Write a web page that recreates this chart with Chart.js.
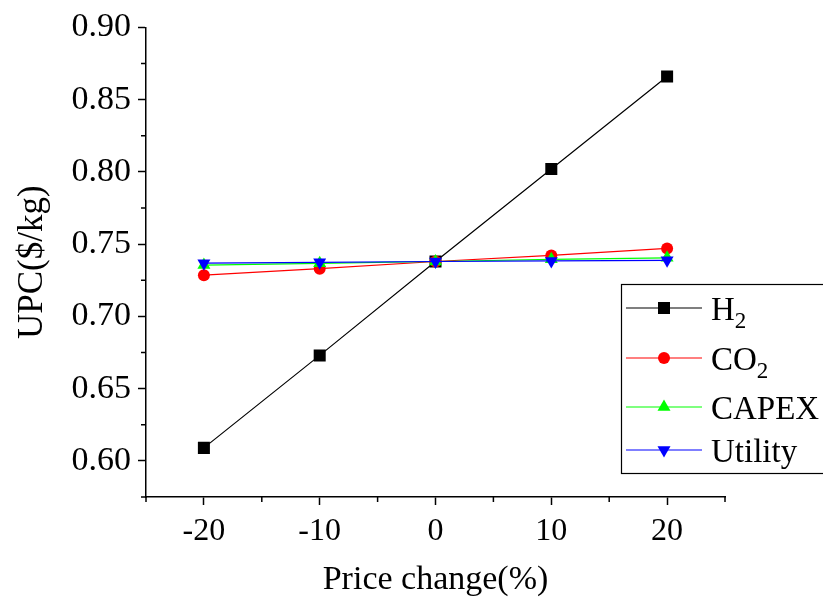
<!DOCTYPE html>
<html>
<head>
<meta charset="utf-8">
<script src="https://cdn.jsdelivr.net/npm/chart.js@4"></script>
<style>
  body { margin: 0; background: #fff; }
  canvas { display: block; }
</style>
</head>
<body>
<canvas id="chart" width="823" height="601"></canvas>
<script>
const priceChange = [-20, -10, 0, 10, 20];
const h2 = [0.609, 0.673, 0.738, 0.802, 0.866];
const co2 = [0.7285, 0.7330, 0.7380, 0.7422, 0.7470];
const capex = [0.7355, 0.7367, 0.7380, 0.7395, 0.7405];
const utility = [0.7368, 0.7374, 0.7380, 0.7384, 0.7388];
const seriesNames = ['H2', 'CO2', 'CAPEX', 'Utility'];
const xTicks = [-20, -10, 0, 10, 20];
const yTicks = [0.60, 0.65, 0.70, 0.75, 0.80, 0.85, 0.90];

const FONT = '"Liberation Serif", "Times New Roman", serif';

function pts(ys) {
  return priceChange.map((x, i) => ({ x: x, y: ys[i] }));
}

// minor ticks + legend box drawn on top
const extras = {
  id: 'extras',
  afterDraw(chart) {
    const ctx = chart.ctx;
    const xs = chart.scales.x, ys = chart.scales.y;
    ctx.save();
    ctx.strokeStyle = '#000';
    ctx.lineWidth = 1.5;
    ctx.beginPath();
    for (let v = -25; v <= 25; v += 10) {
      const px = xs.getPixelForValue(v);
      ctx.moveTo(px, xs.top);
      ctx.lineTo(px, xs.top + 5);
    }
    for (let v = 0.575; v < 0.9; v += 0.05) {
      const py = ys.getPixelForValue(v);
      ctx.moveTo(ys.right, py);
      ctx.lineTo(ys.right - 5, py);
    }
    ctx.stroke();

    // legend
    const bx = 621, by = 284, bw = 240, bh = 189;
    ctx.lineWidth = 1.2;
    ctx.strokeRect(bx + 0.5, by + 0.5, bw, bh);
    const rowY = [308, 358, 407, 450];
    chart.data.datasets.forEach((ds, i) => {
      const y = rowY[i];
      ctx.strokeStyle = ds.borderColor;
      ctx.lineWidth = 1.2;
      ctx.beginPath();
      ctx.moveTo(626, y);
      ctx.lineTo(702, y);
      ctx.stroke();
      ctx.fillStyle = ds.pointBackgroundColor;
      ctx.strokeStyle = ds.pointBackgroundColor;
      Chart.helpers.drawPoint(ctx, {
        pointStyle: ds.pointStyle,
        radius: ds.pointRadius,
        rotation: ds.pointRotation || 0,
        borderWidth: 0
      }, 664, y);
      const name = seriesNames[i];
      ctx.fillStyle = '#000';
      ctx.textBaseline = 'alphabetic';
      ctx.textAlign = 'left';
      const m = name.match(/^([A-Za-z]+)(\d)$/);
      if (m) {
        ctx.font = '33px ' + FONT;
        ctx.fillText(m[1], 711, y + 12);
        const w = ctx.measureText(m[1]).width;
        ctx.font = '23px ' + FONT;
        ctx.fillText(m[2], 711 + w, y + 20);
      } else {
        ctx.font = '33px ' + FONT;
        ctx.fillText(name, 711, y + 12);
      }
    });
    ctx.restore();
  }
};

const colors = ['#000000', '#ff0000', '#00ff00', '#0000ff'];
const styles = ['rect', 'circle', 'triangle', 'triangle'];
const radii = [8.5, 6, 7.5, 7.5];
const rotations = [0, 0, 0, 180];
const values = [h2, co2, capex, utility];

new Chart(document.getElementById('chart'), {
  type: 'line',
  data: {
    datasets: values.map((v, i) => ({
      label: seriesNames[i],
      data: pts(v),
      borderColor: colors[i],
      backgroundColor: colors[i],
      pointBackgroundColor: colors[i],
      pointBorderWidth: 0,
      pointStyle: styles[i],
      pointRadius: radii[i],
      pointRotation: rotations[i],
      borderWidth: 1.2,
      tension: 0,
      order: 3 - i
    }))
  },
  options: {
    responsive: false,
    animation: false,
    layout: { padding: { top: 26, right: 98, left: 0, bottom: 0 } },
    plugins: { legend: { display: false }, tooltip: { enabled: false } },
    scales: {
      x: {
        type: 'linear',
        min: -25,
        max: 25,
        afterBuildTicks: s => { s.ticks = xTicks.map(v => ({ value: v })); },
        afterFit: s => { s.height = 104; },
        grid: { drawOnChartArea: false, drawTicks: true, tickLength: 8, tickWidth: 1.5, tickColor: '#000' },
        border: { color: '#000', width: 1.5 },
        ticks: { color: '#000', font: { family: FONT, size: 32 }, padding: 7, maxRotation: 0 },
        title: { display: true, text: 'Price change(%)', color: '#000', font: { family: FONT, size: 34 }, padding: { top: 6, bottom: 1 } }
      },
      y: {
        min: 0.575,
        max: 0.90,
        afterBuildTicks: s => { s.ticks = yTicks.map(v => ({ value: v })); },
        afterFit: s => { s.width = 146; },
        grid: { drawOnChartArea: false, drawTicks: true, tickLength: 8, tickWidth: 1.5, tickColor: '#000' },
        border: { color: '#000', width: 1.5 },
        ticks: { color: '#000', font: { family: FONT, size: 34 }, padding: 7, callback: v => v.toFixed(2) },
        title: { display: true, text: 'UPC($/kg)', color: '#000', font: { family: FONT, size: 35 }, padding: { top: 12, bottom: 0 } }
      }
    }
  },
  plugins: [extras]
});
</script>
</body>
</html>
